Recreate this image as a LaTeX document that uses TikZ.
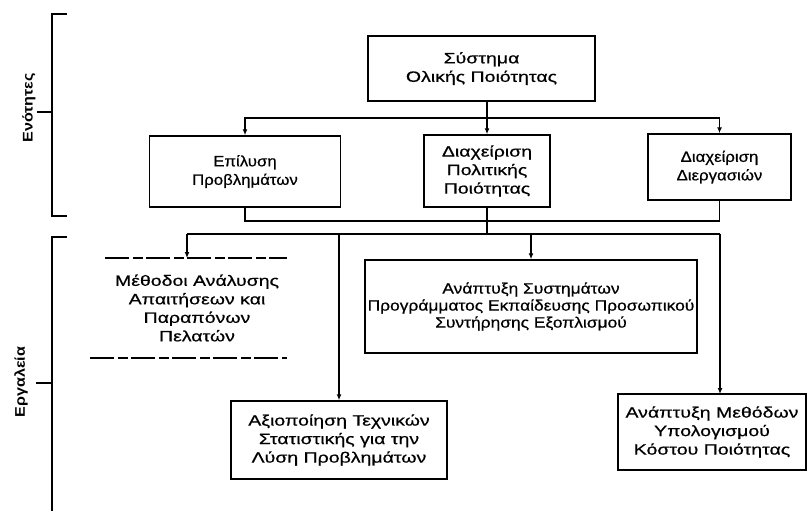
\documentclass[tikz,border=0pt]{standalone}
\usepackage{fontspec}
\setmainfont[FakeStretch=1.3,FakeBold=0.6]{Liberation Sans}
\newfontfamily\midfont[FakeStretch=1.12,FakeBold=0.6]{Liberation Sans}
\newfontfamily\sysfont[FakeStretch=1.16,FakeBold=0.6]{Liberation Sans}
\newfontfamily\sidefont[FakeStretch=1.15]{Liberation Sans Bold}
\usetikzlibrary{arrows.meta}
\begin{document}
\begin{tikzpicture}[x=1pt,y=-1pt,
  every node/.style={font=\fontsize{15}{18.5}\selectfont, align=center, inner sep=0pt},
  mid/.style={font=\midfont\fontsize{15}{18.5}\selectfont},
  sysf/.style={font=\sysfont\fontsize{15}{17}\selectfont},
  box/.style={draw, line width=1.5pt, minimum width=#1},
  ln/.style={line width=1.5pt},
  arr/.style={line width=1.5pt, -{Latex[length=6pt,width=5pt]}},
  brk/.style={line width=1.5pt},
  side/.style={rotate=90, font=\sidefont\fontsize{14}{16}\selectfont},
  rule/.style={line width=1.2pt, dash pattern=on 24pt off 4pt on 10pt off 3pt}
]
\useasboundingbox (0,0) rectangle (811,515);

% --- left brackets with their labels ---
\coordinate (b1t) at (52,14);
\coordinate (b1b) at (52,216);
\coordinate (b1m) at (52,112);
\draw[brk] (67,14) -- (b1t) -- (b1b) -- (67,216);
\draw[brk] (b1m) -- (37,112);
\node[side] (lab1) at (29,108) {Ενότητες};

\coordinate (b2t) at (52,237);
\coordinate (b2b) at (52,511);
\coordinate (b2m) at (52,383);
\draw[brk] (67,237) -- (b2t) -- (b2b);
\draw[brk] (b2m) -- (36,383);
\node[side] (lab2) at (21,382) {Εργαλεία};

% --- upper level ---
\node[box=227pt, minimum height=65pt] (tqm) at (481.5,68.5) {Σύστημα\\Ολικής Ποιότητας};
\node[box=191pt, minimum height=71pt, mid] (epi) at (245,171.5) {Επίλυση\\Προβλημάτων};
\node[box=126pt, minimum height=72pt] (pol) at (487,171) {Διαχείριση\\Πολιτικής\\Ποιότητας};
\node[box=143pt, minimum height=66pt, mid] (proc) at (719.5,167) {Διαχείριση\\Διεργασιών};

\coordinate (bus1) at (487,118);
\draw[arr] (tqm.south -| pol.north) -- (pol.north);
\draw[arr] (bus1) -| (epi.north);
\draw[arr] (bus1) -| (proc.north);

% --- collecting line and distribution line ---
\coordinate (bus2) at (487,221);
\coordinate (bus3) at (487,234);
\draw[ln] (epi.south) |- (bus2) -| (proc.south);
\draw[ln] (pol.south) -- (bus3);

% --- tools ---
\node (meth) at (197,308) {Μέθοδοι Ανάλυσης\\Απαιτήσεων και\\Παραπόνων\\Πελατών};
\coordinate (mtop) at (187,258);
\coordinate (mtl) at (105,258);
\coordinate (mtr) at (287,258);
\coordinate (mbl) at (90,358);
\coordinate (mbr) at (287,358);
\draw[rule] (mtl) -- (mtr);
\draw[rule] (mbl) -- (mbr);

\node[box=332pt, minimum height=93pt, sysf] (sys) at (531,306.5) {Ανάπτυξη Συστημάτων\\Προγράμματος Εκπαίδευσης Προσωπικού\\Συντήρησης Εξοπλισμού};
\node[box=216pt, minimum height=78pt] (axio) at (339,440) {Αξιοποίηση Τεχνικών\\Στατιστικής για την\\Λύση Προβλημάτων};
\node[box=188pt, minimum height=76pt] (cost) at (712,432) {Ανάπτυξη Μεθόδων\\Υπολογισμού\\Κόστου Ποιότητας};

\draw[ln] (187,234) -- (bus3) -- (720,234);
\draw[arr] (187,234) -- (mtop);
\draw[arr] (axio.north |- bus3) -- (axio.north);
\draw[arr] (sys.north |- bus3) -- (sys.north);
\draw[arr] (720,234) -- (720,394);
\end{tikzpicture}
\end{document}
